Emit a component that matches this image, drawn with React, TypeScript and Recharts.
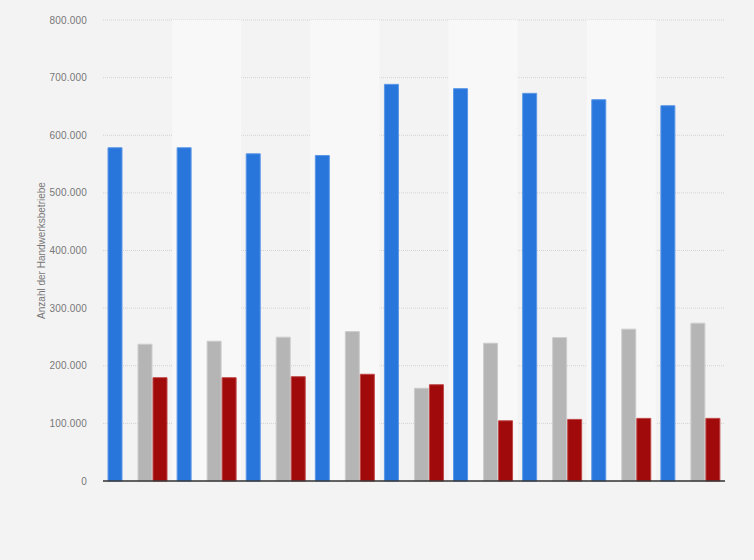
import React from "react";
import {
  BarChart,
  Bar,
  XAxis,
  YAxis,
  CartesianGrid,
  ReferenceArea,
  Label,
} from "recharts";

// Jahre (Achsenbeschriftung ausgeblendet)
const years = ["2015", "2016", "2017", "2018", "2019", "2020", "2021", "2022", "2023"];

// Anzahl der Betriebe je Handwerksgruppe
const anlageA = [578300, 578300, 567800, 564900, 688300, 680900, 672700, 661700, 651300];
const anlageB0: (number | null)[] = [null, null, null, null, null, null, null, null, null];
const anlageB1 = [237400, 242600, 249600, 259300, 160900, 239100, 248900, 263500, 273900];
const anlageB2 = [179300, 179300, 181000, 185200, 167100, 104500, 106900, 108700, 108700];

const yTicks = [0, 100000, 200000, 300000, 400000, 500000, 600000, 700000, 800000];

const data = years.map((year, i) => ({
  year,
  a: anlageA[i],
  b0: anlageB0[i],
  b1: anlageB1[i],
  b2: anlageB2[i],
}));

const fmt = (v: number) => (v === 0 ? "0" : v.toLocaleString("en-US").replace(/,/g, "."));

const AxisTitle = (props: any) => {
  const { viewBox } = props;
  const cx = 41;
  const cy = viewBox.y + viewBox.height / 2;
  return (
    <text
      x={cx}
      y={cy}
      transform={`rotate(-90, ${cx}, ${cy})`}
      textAnchor="middle"
      dominantBaseline="central"
      fontSize={10}
      fill="#777"
      fontFamily="'Liberation Sans', Arial, sans-serif"
    >
      Anzahl der Handwerksbetriebe
    </text>
  );
};

export default function App() {
  return (
    <div style={{ position: "absolute", left: 0, top: 0, width: 754, height: 560, background: "#f3f3f3" }}>
      <BarChart
        width={754}
        height={560}
        data={data}
        margin={{ top: 20, right: 29, bottom: 78, left: 0 }}
        barCategoryGap={5}
        barGap={1}
      >
        {years.map((y, i) =>
          i % 2 === 1 ? (
            <ReferenceArea key={y} x1={y} x2={y} fill="#f8f8f8" fillOpacity={1} strokeOpacity={0} ifOverflow="visible" />
          ) : null
        )}
        <CartesianGrid vertical={false} stroke="#d2d2d2" strokeDasharray="1 1" />
        <XAxis dataKey="year" tick={false} tickLine={false} axisLine={{ stroke: "#333", strokeWidth: 1.5 }} height={1} />
        <YAxis
          width={103}
          domain={[0, 800000]}
          ticks={yTicks}
          tickFormatter={fmt}
          axisLine={false}
          tickLine={false}
          tickSize={0}
          tickMargin={16}
          tick={{ fontSize: 10, fill: "#777", fontFamily: "'Liberation Sans', Arial, sans-serif", letterSpacing: 0.2 }}
        >
          <Label content={<AxisTitle />} />
        </YAxis>
        <Bar dataKey="a" name="Zulassungspflichtiges Handwerk" fill="#2876dc" stroke="#5c98e6" strokeWidth={1} isAnimationActive={false} />
        <Bar dataKey="b0" name="Sonstige" fill="#888" isAnimationActive={false} />
        <Bar dataKey="b1" name="Zulassungsfreies Handwerk" fill="#b5b5b5" stroke="#cdcdcd" strokeWidth={1} isAnimationActive={false} />
        <Bar dataKey="b2" name="Handwerksähnliches Gewerbe" fill="#a10a0a" stroke="#c04848" strokeWidth={1} isAnimationActive={false} />
      </BarChart>
    </div>
  );
}
